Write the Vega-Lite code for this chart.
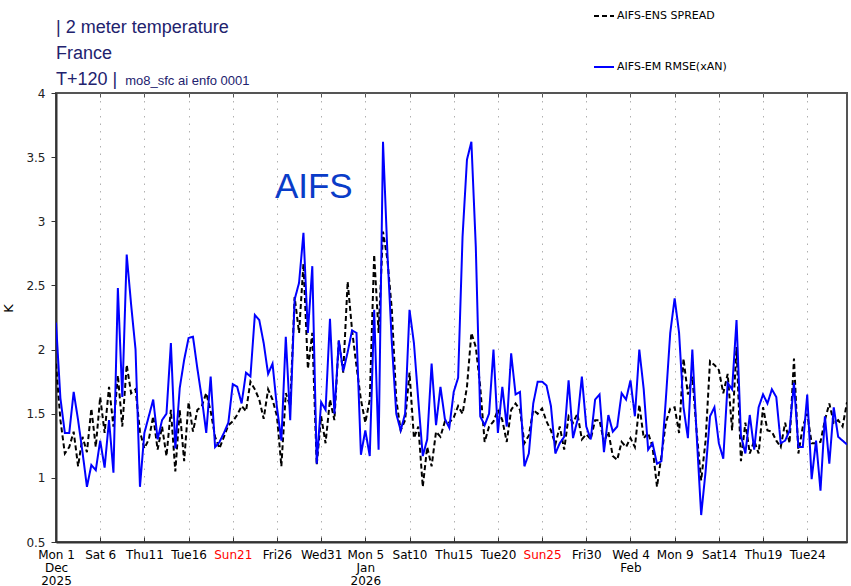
{
  "$schema": "https://vega.github.io/schema/vega-lite/v6.json",
  "width": 791,
  "height": 449,
  "autosize": {"type": "none"},
  "padding": {"left": 56, "top": 93, "right": 4, "bottom": 44},
  "background": "white",
  "title": {
    "text": ["| 2 meter temperature", "France", "T+120 |"],
    "orient": "none",
    "anchor": "start",
    "frame": "group",
    "baseline": "alphabetic",
    "dx": 0,
    "dy": -60.3,
    "font": "Liberation Sans",
    "fontSize": 18,
    "fontWeight": "normal",
    "color": "#22226e",
    "lineHeight": 26.3
  },
  "config": {
    "view": {"stroke": "#555555", "strokeWidth": 2},
    "legend": {
      "orient": "none",
      "legendX": 537,
      "legendY": -88,
      "symbolType": "stroke",
      "symbolSize": 400,
      "symbolStrokeWidth": 2,
      "rowPadding": 35,
      "labelFont": "DejaVu Sans",
      "labelFontSize": 11,
      "labelColor": "#000000",
      "labelOffset": 2,
      "labelLimit": 300,
      "padding": 0
    }
  },
  "resolve": {"axis": {"x": "independent"}},
  "data": {
    "values": [
      {"time": "2025-12-01T00:00Z", "spread": 1.89, "rmse": 2.21},
      {"time": "2025-12-01T12:00Z", "spread": 1.45, "rmse": 1.62},
      {"time": "2025-12-02T00:00Z", "spread": 1.19, "rmse": 1.35},
      {"time": "2025-12-02T12:00Z", "spread": 1.24, "rmse": 1.35},
      {"time": "2025-12-03T00:00Z", "spread": 1.36, "rmse": 1.67},
      {"time": "2025-12-03T12:00Z", "spread": 1.09, "rmse": 1.45},
      {"time": "2025-12-04T00:00Z", "spread": 1.32, "rmse": 1.20},
      {"time": "2025-12-04T12:00Z", "spread": 1.20, "rmse": 0.93},
      {"time": "2025-12-05T00:00Z", "spread": 1.54, "rmse": 1.10},
      {"time": "2025-12-05T12:00Z", "spread": 1.24, "rmse": 1.06},
      {"time": "2025-12-06T00:00Z", "spread": 1.63, "rmse": 1.29},
      {"time": "2025-12-06T12:00Z", "spread": 1.35, "rmse": 1.08},
      {"time": "2025-12-07T00:00Z", "spread": 1.71, "rmse": 1.45},
      {"time": "2025-12-07T12:00Z", "spread": 1.40, "rmse": 1.04},
      {"time": "2025-12-08T00:00Z", "spread": 1.80, "rmse": 2.48},
      {"time": "2025-12-08T12:00Z", "spread": 1.40, "rmse": 1.63},
      {"time": "2025-12-09T00:00Z", "spread": 1.88, "rmse": 2.74},
      {"time": "2025-12-09T12:00Z", "spread": 1.66, "rmse": 2.35},
      {"time": "2025-12-10T00:00Z", "spread": 1.69, "rmse": 2.00},
      {"time": "2025-12-10T12:00Z", "spread": 1.36, "rmse": 0.93},
      {"time": "2025-12-11T00:00Z", "spread": 1.23, "rmse": 1.35},
      {"time": "2025-12-11T12:00Z", "spread": 1.30, "rmse": 1.48},
      {"time": "2025-12-12T00:00Z", "spread": 1.48, "rmse": 1.61},
      {"time": "2025-12-12T12:00Z", "spread": 1.22, "rmse": 1.30},
      {"time": "2025-12-13T00:00Z", "spread": 1.40, "rmse": 1.45},
      {"time": "2025-12-13T12:00Z", "spread": 1.17, "rmse": 1.50},
      {"time": "2025-12-14T00:00Z", "spread": 1.53, "rmse": 2.05},
      {"time": "2025-12-14T12:00Z", "spread": 1.05, "rmse": 1.23},
      {"time": "2025-12-15T00:00Z", "spread": 1.53, "rmse": 1.70},
      {"time": "2025-12-15T12:00Z", "spread": 1.13, "rmse": 1.92},
      {"time": "2025-12-16T00:00Z", "spread": 1.59, "rmse": 2.09},
      {"time": "2025-12-16T12:00Z", "spread": 1.36, "rmse": 2.10},
      {"time": "2025-12-17T00:00Z", "spread": 1.53, "rmse": 1.85},
      {"time": "2025-12-17T12:00Z", "spread": 1.56, "rmse": 1.62},
      {"time": "2025-12-18T00:00Z", "spread": 1.66, "rmse": 1.35},
      {"time": "2025-12-18T12:00Z", "spread": 1.52, "rmse": 1.79},
      {"time": "2025-12-19T00:00Z", "spread": 1.32, "rmse": 1.24},
      {"time": "2025-12-19T12:00Z", "spread": 1.23, "rmse": 1.28},
      {"time": "2025-12-20T00:00Z", "spread": 1.32, "rmse": 1.35},
      {"time": "2025-12-20T12:00Z", "spread": 1.41, "rmse": 1.43},
      {"time": "2025-12-21T00:00Z", "spread": 1.44, "rmse": 1.73},
      {"time": "2025-12-21T12:00Z", "spread": 1.49, "rmse": 1.71},
      {"time": "2025-12-22T00:00Z", "spread": 1.56, "rmse": 1.58},
      {"time": "2025-12-22T12:00Z", "spread": 1.52, "rmse": 1.82},
      {"time": "2025-12-23T00:00Z", "spread": 1.75, "rmse": 1.79},
      {"time": "2025-12-23T12:00Z", "spread": 1.69, "rmse": 2.27},
      {"time": "2025-12-24T00:00Z", "spread": 1.61, "rmse": 2.23},
      {"time": "2025-12-24T12:00Z", "spread": 1.46, "rmse": 2.05},
      {"time": "2025-12-25T00:00Z", "spread": 1.69, "rmse": 1.81},
      {"time": "2025-12-25T12:00Z", "spread": 1.61, "rmse": 1.89},
      {"time": "2025-12-26T00:00Z", "spread": 1.48, "rmse": 1.55},
      {"time": "2025-12-26T12:00Z", "spread": 1.09, "rmse": 1.29},
      {"time": "2025-12-27T00:00Z", "spread": 1.66, "rmse": 2.10},
      {"time": "2025-12-27T12:00Z", "spread": 1.56, "rmse": 1.45},
      {"time": "2025-12-28T00:00Z", "spread": 2.41, "rmse": 2.39},
      {"time": "2025-12-28T12:00Z", "spread": 2.13, "rmse": 2.52},
      {"time": "2025-12-29T00:00Z", "spread": 2.67, "rmse": 2.91},
      {"time": "2025-12-29T12:00Z", "spread": 1.85, "rmse": 2.13},
      {"time": "2025-12-30T00:00Z", "spread": 2.13, "rmse": 2.65},
      {"time": "2025-12-30T12:00Z", "spread": 1.10, "rmse": 1.11},
      {"time": "2025-12-31T00:00Z", "spread": 1.48, "rmse": 1.59},
      {"time": "2025-12-31T12:00Z", "spread": 1.27, "rmse": 1.53},
      {"time": "2026-01-01T00:00Z", "spread": 1.61, "rmse": 2.24},
      {"time": "2026-01-01T12:00Z", "spread": 1.45, "rmse": 1.50},
      {"time": "2026-01-02T00:00Z", "spread": 2.07, "rmse": 2.07},
      {"time": "2026-01-02T12:00Z", "spread": 1.82, "rmse": 1.83},
      {"time": "2026-01-03T00:00Z", "spread": 2.53, "rmse": 1.98},
      {"time": "2026-01-03T12:00Z", "spread": 2.15, "rmse": 2.15},
      {"time": "2026-01-04T00:00Z", "spread": 1.87, "rmse": 2.13},
      {"time": "2026-01-04T12:00Z", "spread": 1.61, "rmse": 1.18},
      {"time": "2026-01-05T00:00Z", "spread": 1.43, "rmse": 1.37},
      {"time": "2026-01-05T12:00Z", "spread": 1.61, "rmse": 1.17},
      {"time": "2026-01-06T00:00Z", "spread": 2.74, "rmse": 2.31},
      {"time": "2026-01-06T12:00Z", "spread": 2.13, "rmse": 1.22},
      {"time": "2026-01-07T00:00Z", "spread": 2.92, "rmse": 3.62},
      {"time": "2026-01-07T12:00Z", "spread": 2.70, "rmse": 2.75},
      {"time": "2026-01-08T00:00Z", "spread": 2.31, "rmse": 2.05},
      {"time": "2026-01-08T12:00Z", "spread": 1.61, "rmse": 1.50},
      {"time": "2026-01-09T00:00Z", "spread": 1.37, "rmse": 1.37},
      {"time": "2026-01-09T12:00Z", "spread": 1.45, "rmse": 1.50},
      {"time": "2026-01-10T00:00Z", "spread": 1.82, "rmse": 2.31},
      {"time": "2026-01-10T12:00Z", "spread": 1.31, "rmse": 2.05},
      {"time": "2026-01-11T00:00Z", "spread": 1.40, "rmse": 1.60},
      {"time": "2026-01-11T12:00Z", "spread": 0.93, "rmse": 1.17},
      {"time": "2026-01-12T00:00Z", "spread": 1.24, "rmse": 1.30},
      {"time": "2026-01-12T12:00Z", "spread": 1.09, "rmse": 1.89},
      {"time": "2026-01-13T00:00Z", "spread": 1.36, "rmse": 1.41},
      {"time": "2026-01-13T12:00Z", "spread": 1.32, "rmse": 1.71},
      {"time": "2026-01-14T00:00Z", "spread": 1.44, "rmse": 1.46},
      {"time": "2026-01-14T12:00Z", "spread": 1.43, "rmse": 1.39},
      {"time": "2026-01-15T00:00Z", "spread": 1.47, "rmse": 1.67},
      {"time": "2026-01-15T12:00Z", "spread": 1.56, "rmse": 1.78},
      {"time": "2026-01-16T00:00Z", "spread": 1.50, "rmse": 2.88},
      {"time": "2026-01-16T12:00Z", "spread": 1.71, "rmse": 3.48},
      {"time": "2026-01-17T00:00Z", "spread": 2.13, "rmse": 3.62},
      {"time": "2026-01-17T12:00Z", "spread": 2.02, "rmse": 2.80},
      {"time": "2026-01-18T00:00Z", "spread": 1.71, "rmse": 1.48},
      {"time": "2026-01-18T12:00Z", "spread": 1.28, "rmse": 1.41},
      {"time": "2026-01-19T00:00Z", "spread": 1.40, "rmse": 1.50},
      {"time": "2026-01-19T12:00Z", "spread": 1.44, "rmse": 2.00},
      {"time": "2026-01-20T00:00Z", "spread": 1.53, "rmse": 1.35},
      {"time": "2026-01-20T12:00Z", "spread": 1.45, "rmse": 1.71},
      {"time": "2026-01-21T00:00Z", "spread": 1.28, "rmse": 1.40},
      {"time": "2026-01-21T12:00Z", "spread": 1.53, "rmse": 1.97},
      {"time": "2026-01-22T00:00Z", "spread": 1.58, "rmse": 1.65},
      {"time": "2026-01-22T12:00Z", "spread": 1.53, "rmse": 1.67},
      {"time": "2026-01-23T00:00Z", "spread": 1.27, "rmse": 1.09},
      {"time": "2026-01-23T12:00Z", "spread": 1.33, "rmse": 1.19},
      {"time": "2026-01-24T00:00Z", "spread": 1.53, "rmse": 1.58},
      {"time": "2026-01-24T12:00Z", "spread": 1.50, "rmse": 1.75},
      {"time": "2026-01-25T00:00Z", "spread": 1.54, "rmse": 1.75},
      {"time": "2026-01-25T12:00Z", "spread": 1.44, "rmse": 1.72},
      {"time": "2026-01-26T00:00Z", "spread": 1.37, "rmse": 1.56},
      {"time": "2026-01-26T12:00Z", "spread": 1.26, "rmse": 1.19},
      {"time": "2026-01-27T00:00Z", "spread": 1.40, "rmse": 1.27},
      {"time": "2026-01-27T12:00Z", "spread": 1.22, "rmse": 1.32},
      {"time": "2026-01-28T00:00Z", "spread": 1.48, "rmse": 1.76},
      {"time": "2026-01-28T12:00Z", "spread": 1.43, "rmse": 1.31},
      {"time": "2026-01-29T00:00Z", "spread": 1.50, "rmse": 1.45},
      {"time": "2026-01-29T12:00Z", "spread": 1.30, "rmse": 1.79},
      {"time": "2026-01-30T00:00Z", "spread": 1.34, "rmse": 1.40},
      {"time": "2026-01-30T12:00Z", "spread": 1.30, "rmse": 1.30},
      {"time": "2026-01-31T00:00Z", "spread": 1.45, "rmse": 1.61},
      {"time": "2026-01-31T12:00Z", "spread": 1.45, "rmse": 1.65},
      {"time": "2026-02-01T00:00Z", "spread": 1.28, "rmse": 1.20},
      {"time": "2026-02-01T12:00Z", "spread": 1.36, "rmse": 1.49},
      {"time": "2026-02-02T00:00Z", "spread": 1.17, "rmse": 1.36},
      {"time": "2026-02-02T12:00Z", "spread": 1.14, "rmse": 1.40},
      {"time": "2026-02-03T00:00Z", "spread": 1.28, "rmse": 1.66},
      {"time": "2026-02-03T12:00Z", "spread": 1.24, "rmse": 1.61},
      {"time": "2026-02-04T00:00Z", "spread": 1.31, "rmse": 1.76},
      {"time": "2026-02-04T12:00Z", "spread": 1.24, "rmse": 1.48},
      {"time": "2026-02-05T00:00Z", "spread": 1.57, "rmse": 2.00},
      {"time": "2026-02-05T12:00Z", "spread": 1.31, "rmse": 1.69},
      {"time": "2026-02-06T00:00Z", "spread": 1.35, "rmse": 1.22},
      {"time": "2026-02-06T12:00Z", "spread": 1.24, "rmse": 1.27},
      {"time": "2026-02-07T00:00Z", "spread": 0.93, "rmse": 1.11},
      {"time": "2026-02-07T12:00Z", "spread": 1.17, "rmse": 1.13},
      {"time": "2026-02-08T00:00Z", "spread": 1.43, "rmse": 1.61},
      {"time": "2026-02-08T12:00Z", "spread": 1.54, "rmse": 2.13},
      {"time": "2026-02-09T00:00Z", "spread": 1.55, "rmse": 2.40},
      {"time": "2026-02-09T12:00Z", "spread": 1.35, "rmse": 2.13},
      {"time": "2026-02-10T00:00Z", "spread": 1.93, "rmse": 1.55},
      {"time": "2026-02-10T12:00Z", "spread": 1.65, "rmse": 1.31},
      {"time": "2026-02-11T00:00Z", "spread": 1.79, "rmse": 2.00},
      {"time": "2026-02-11T12:00Z", "spread": 1.35, "rmse": 1.32},
      {"time": "2026-02-12T00:00Z", "spread": 0.98, "rmse": 0.71},
      {"time": "2026-02-12T12:00Z", "spread": 1.29, "rmse": 1.05},
      {"time": "2026-02-13T00:00Z", "spread": 1.91, "rmse": 1.48},
      {"time": "2026-02-13T12:00Z", "spread": 1.88, "rmse": 1.55},
      {"time": "2026-02-14T00:00Z", "spread": 1.84, "rmse": 1.27},
      {"time": "2026-02-14T12:00Z", "spread": 1.66, "rmse": 1.15},
      {"time": "2026-02-15T00:00Z", "spread": 1.81, "rmse": 1.74},
      {"time": "2026-02-15T12:00Z", "spread": 1.37, "rmse": 1.69},
      {"time": "2026-02-16T00:00Z", "spread": 2.02, "rmse": 2.23},
      {"time": "2026-02-16T12:00Z", "spread": 1.13, "rmse": 1.33},
      {"time": "2026-02-17T00:00Z", "spread": 1.43, "rmse": 1.19},
      {"time": "2026-02-17T12:00Z", "spread": 1.19, "rmse": 1.49},
      {"time": "2026-02-18T00:00Z", "spread": 1.29, "rmse": 1.22},
      {"time": "2026-02-18T12:00Z", "spread": 1.19, "rmse": 1.55},
      {"time": "2026-02-19T00:00Z", "spread": 1.55, "rmse": 1.65},
      {"time": "2026-02-19T12:00Z", "spread": 1.37, "rmse": 1.58},
      {"time": "2026-02-20T00:00Z", "spread": 1.36, "rmse": 1.69},
      {"time": "2026-02-20T12:00Z", "spread": 1.29, "rmse": 1.63},
      {"time": "2026-02-21T00:00Z", "spread": 1.24, "rmse": 1.27},
      {"time": "2026-02-21T12:00Z", "spread": 1.43, "rmse": 1.29},
      {"time": "2026-02-22T00:00Z", "spread": 1.27, "rmse": 1.37},
      {"time": "2026-02-22T12:00Z", "spread": 1.93, "rmse": 1.74},
      {"time": "2026-02-23T00:00Z", "spread": 1.19, "rmse": 1.24},
      {"time": "2026-02-23T12:00Z", "spread": 1.40, "rmse": 1.24},
      {"time": "2026-02-24T00:00Z", "spread": 1.50, "rmse": 1.65},
      {"time": "2026-02-24T12:00Z", "spread": 1.27, "rmse": 0.99},
      {"time": "2026-02-25T00:00Z", "spread": 1.27, "rmse": 1.29},
      {"time": "2026-02-25T12:00Z", "spread": 1.28, "rmse": 0.90},
      {"time": "2026-02-26T00:00Z", "spread": 1.45, "rmse": 1.48},
      {"time": "2026-02-26T12:00Z", "spread": 1.58, "rmse": 1.11},
      {"time": "2026-02-27T00:00Z", "spread": 1.43, "rmse": 1.55},
      {"time": "2026-02-27T12:00Z", "spread": 1.45, "rmse": 1.32},
      {"time": "2026-02-28T00:00Z", "spread": 1.40, "rmse": 1.29},
      {"time": "2026-02-28T12:00Z", "spread": 1.59, "rmse": 1.26}
    ]
  },
  "layer": [
    {
      "mark": {"type": "line", "strokeWidth": 2, "clip": true},
      "encoding": {
        "x": {
          "field": "time",
          "type": "temporal",
          "title": null,
          "scale": {"type": "utc", "domain": [1764547200000, 1772280000000]},
          "axis": {
            "values": [1764547200000, 1764979200000, 1765411200000, 1765843200000, 1766275200000, 1766707200000, 1767139200000, 1767571200000, 1768003200000, 1768435200000, 1768867200000, 1769299200000, 1769731200000, 1770163200000, 1770595200000, 1771027200000, 1771459200000, 1771891200000],
            "labelExpr": "utcdate(datum.value) > 5 ? utcFormat(datum.value, '%a') + (utcdate(datum.value) < 10 ? ' ' : '') + utcdate(datum.value) : (utcmonth(datum.value) == 1 ? [utcFormat(datum.value, '%a') + (utcdate(datum.value) < 10 ? ' ' : '') + utcdate(datum.value), 'Feb'] : [utcFormat(datum.value, '%a') + (utcdate(datum.value) < 10 ? ' ' : '') + utcdate(datum.value), utcFormat(datum.value, '%b'), utcFormat(datum.value, '%Y')])",
            "labelColor": {"condition": {"test": "utcday(datum.value) == 0", "value": "#ff0000"}, "value": "#000000"},
            "labelFont": "DejaVu Sans",
            "labelFontSize": 12,
            "labelLineHeight": 13,
            "labelPadding": 12,
            "labelOverlap": false,
            "labelFlush": false,
            "labelBound": false,
            "grid": true,
            "gridDash": [1.5, 6],
            "gridColor": "#b0b0b0",
            "gridWidth": 1,
            "domainColor": "#333333",
            "domainWidth": 2,
            "tickColor": "#333333",
            "tickSize": -5,
            "tickWidth": 1
          }
        },
        "y": {
          "field": "spread",
          "type": "quantitative",
          "title": "K",
          "scale": {"domain": [0.5, 4], "nice": false, "zero": false},
          "axis": {
            "values": [0.5, 1, 1.5, 2, 2.5, 3, 3.5, 4],
            "format": "~g",
            "grid": false,
            "labelFont": "DejaVu Sans",
            "labelFontSize": 12,
            "labelColor": "#222222",
            "labelPadding": 6,
            "domainColor": "#333333",
            "domainWidth": 2,
            "tickColor": "#333333",
            "tickSize": 5,
            "titleFont": "DejaVu Sans",
            "titleFontSize": 13,
            "titleFontWeight": "normal",
            "titleColor": "#000000",
            "titlePadding": 10,
            "titleY": 215
          }
        },
        "color": {
          "datum": "AIFS-ENS SPREAD",
          "type": "nominal",
          "title": null,
          "scale": {"domain": ["AIFS-ENS SPREAD", "AIFS-EM RMSE(xAN)"], "range": ["#000000", "#0000ff"]}
        },
        "strokeDash": {
          "datum": "AIFS-ENS SPREAD",
          "type": "nominal",
          "title": null,
          "scale": {"domain": ["AIFS-ENS SPREAD", "AIFS-EM RMSE(xAN)"], "range": [[5, 3], [1, 0]]}
        }
      }
    },
    {
      "mark": {"type": "line", "strokeWidth": 2, "clip": true},
      "encoding": {
        "x": {
          "field": "time",
          "type": "temporal",
          "title": null,
          "axis": {
            "orient": "top",
            "values": [1764547200000, 1764979200000, 1765411200000, 1765843200000, 1766275200000, 1766707200000, 1767139200000, 1767571200000, 1768003200000, 1768435200000, 1768867200000, 1769299200000, 1769731200000, 1770163200000, 1770595200000, 1771027200000, 1771459200000, 1771891200000],
            "labels": false,
            "domain": false,
            "grid": false,
            "ticks": true,
            "tickSize": -4,
            "tickColor": "#555555",
            "tickWidth": 1
          }
        },
        "y": {"field": "rmse", "type": "quantitative", "title": "K"},
        "color": {"datum": "AIFS-EM RMSE(xAN)", "type": "nominal", "title": null},
        "strokeDash": {"datum": "AIFS-EM RMSE(xAN)", "type": "nominal", "title": null}
      }
    },
    {
      "data": {"values": [{"time": "2025-12-30T04:00Z", "v": 3.18, "label": "AIFS"}]},
      "mark": {"type": "text", "font": "Liberation Sans", "fontSize": 35, "color": "#0a3cc8", "align": "center", "baseline": "alphabetic"},
      "encoding": {
        "x": {"field": "time", "type": "temporal", "title": null, "axis": null},
        "y": {"field": "v", "type": "quantitative", "title": "K"},
        "text": {"field": "label"}
      }
    },
    {
      "data": {"values": [{"time": "2025-12-08T20:00Z", "v": 4.066, "label": "mo8_sfc ai enfo 0001"}]},
      "mark": {"type": "text", "font": "Liberation Sans", "fontSize": 13, "color": "#22226e", "align": "left", "baseline": "alphabetic"},
      "encoding": {
        "x": {"field": "time", "type": "temporal", "title": null, "axis": null},
        "y": {"field": "v", "type": "quantitative", "title": "K"},
        "text": {"field": "label"}
      }
    }
  ]
}
